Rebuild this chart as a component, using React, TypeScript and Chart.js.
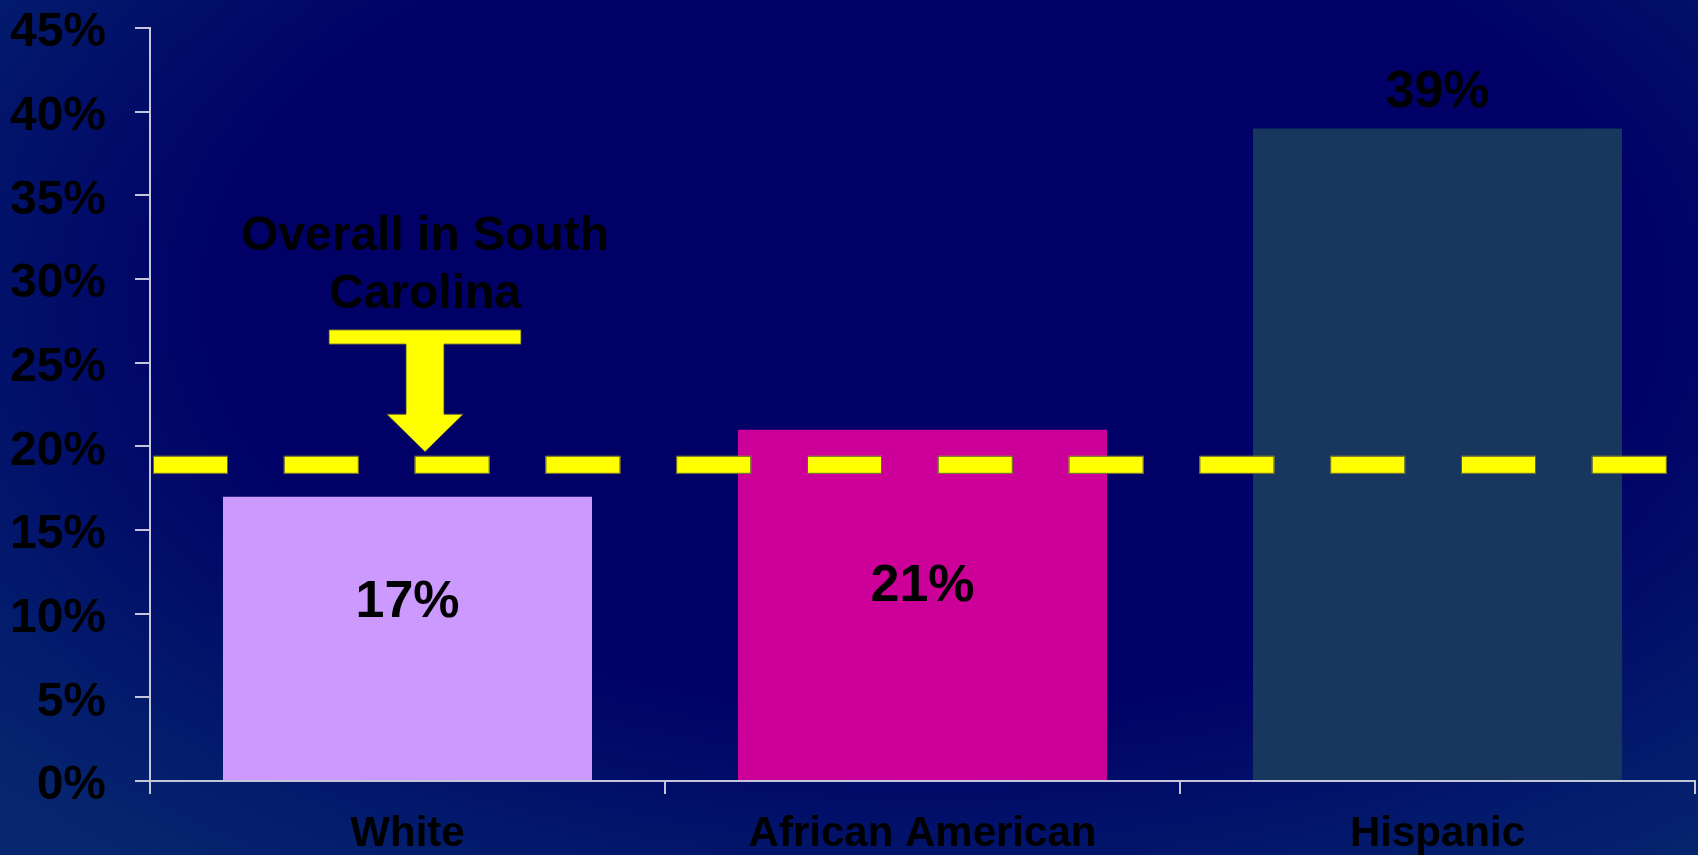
import React, { useEffect, useRef } from 'react';
import { Chart, registerables } from 'chart.js';

Chart.register(...registerables);

// ---- Data ----
const categories = ['White', 'African American', 'Hispanic'];
const values = [17, 21, 39];
const valueLabels = ['17%', '21%', '39%'];
const barColors = ['#CC99FF', '#CC0099', '#17375E'];
const overallValue = 18.9;
const overallLabel = ['Overall in South', 'Carolina'];
const yMin = 0;
const yMax = 45;
const yStep = 5;

const FONT = '"Liberation Sans", Arial, Helvetica, sans-serif';
const AXIS_COLOR = '#c4c6dc';
const YELLOW = '#FFFF00';
const OUTLINE = 'rgba(60,60,70,0.8)';
const Y_TICK_LEN = 15;

// baseline offsets (px) of value labels relative to bar tops
const labelBaselineOffsets = [120, 171, -21];

const yTickMarksPlugin = {
  id: 'yTickMarks',
  afterDraw(chart: any) {
    const { ctx, chartArea, scales } = chart;
    const yScale = scales.y;
    ctx.save();
    ctx.strokeStyle = AXIS_COLOR;
    ctx.lineWidth = 2;
    yScale.ticks.forEach((t: any) => {
      const py = Math.round(yScale.getPixelForValue(t.value));
      ctx.beginPath();
      ctx.moveTo(chartArea.left - Y_TICK_LEN, py);
      ctx.lineTo(chartArea.left, py);
      ctx.stroke();
    });
    ctx.restore();
  },
};

const overlayPlugin = {
  id: 'overlay',
  afterDatasetsDraw(chart: any) {
    const { ctx, chartArea, scales } = chart;
    const yScale = scales.y;
    const xScale = scales.x;
    const meta = chart.getDatasetMeta(0);

    ctx.save();
    // value labels
    ctx.font = `bold 52px ${FONT}`;
    ctx.fillStyle = '#000000';
    ctx.textAlign = 'center';
    ctx.textBaseline = 'alphabetic';
    meta.data.forEach((bar: any, i: number) => {
      ctx.fillText(valueLabels[i], bar.x, bar.y + labelBaselineOffsets[i]);
    });

    // dashed overall line
    const ly = yScale.getPixelForValue(overallValue);
    const dash = 75;
    const period = 130.8;
    const thick = 18;
    ctx.fillStyle = YELLOW;
    ctx.strokeStyle = OUTLINE;
    ctx.lineWidth = 1;
    for (let x0 = chartArea.left + 3; x0 + dash <= chartArea.right - 20; x0 += period) {
      ctx.fillRect(x0, ly - thick / 2, dash, thick);
      ctx.strokeRect(x0 + 0.5, ly - thick / 2 + 0.5, dash - 1, thick - 1);
    }

    // arrow
    const cx = xScale.getPixelForValue(0) + 17.5;
    const tip = ly - 13;
    ctx.beginPath();
    ctx.moveTo(cx - 96, tip - 122);
    ctx.lineTo(cx + 96, tip - 122);
    ctx.lineTo(cx + 96, tip - 107.7);
    ctx.lineTo(cx + 19, tip - 107.7);
    ctx.lineTo(cx + 19, tip - 37.7);
    ctx.lineTo(cx + 38.3, tip - 37.7);
    ctx.lineTo(cx, tip);
    ctx.lineTo(cx - 38.3, tip - 37.7);
    ctx.lineTo(cx - 19, tip - 37.7);
    ctx.lineTo(cx - 19, tip - 107.7);
    ctx.lineTo(cx - 96, tip - 107.7);
    ctx.closePath();
    ctx.fillStyle = YELLOW;
    ctx.fill();
    ctx.strokeStyle = OUTLINE;
    ctx.lineWidth = 1;
    ctx.stroke();

    // annotation text
    ctx.font = `bold 48px ${FONT}`;
    ctx.fillStyle = '#000000';
    ctx.textAlign = 'center';
    ctx.textBaseline = 'alphabetic';
    ctx.fillText(overallLabel[0], cx, tip - 201.7);
    ctx.fillText(overallLabel[1], cx, tip - 144);
    ctx.restore();
  },
};

export default function App() {
  const canvasRef = useRef<HTMLCanvasElement | null>(null);

  useEffect(() => {
    document.body.style.margin = '0';
    const canvas = canvasRef.current;
    if (!canvas) return;
    const chart = new Chart(canvas, {
      type: 'bar',
      data: {
        labels: categories,
        datasets: [
          {
            data: values,
            backgroundColor: barColors,
            borderWidth: 0,
            categoryPercentage: 1,
            barPercentage: 0.7165,
          },
        ],
      },
      options: {
        responsive: false,
        animation: false,
        devicePixelRatio: 1,
        layout: { padding: { left: 0, right: 3, top: 0, bottom: -19.5 } },
        plugins: {
          legend: { display: false },
          tooltip: { enabled: false },
          title: { display: false },
        },
        scales: {
          x: {
            grid: {
              offset: true,
              drawOnChartArea: false,
              drawTicks: true,
              tickLength: 13,
              color: AXIS_COLOR,
              lineWidth: 2,
            },
            border: { display: true, color: AXIS_COLOR, width: 2 },
            ticks: {
              color: '#000000',
              font: { family: FONT, size: 42, weight: 'bold' },
              padding: 15,
              maxRotation: 0,
              autoSkip: false,
            },
          },
          y: {
            min: yMin,
            max: yMax,
            afterFit: (scale: any) => {
              scale.width = 150;
            },
            grid: {
              drawOnChartArea: false,
              drawTicks: true,
              tickLength: 44,
              tickColor: 'rgba(0,0,0,0)',
              color: 'rgba(0,0,0,0)',
              lineWidth: 2,
            },
            border: { display: true, color: AXIS_COLOR, width: 2 },
            ticks: {
              stepSize: yStep,
              color: '#000000',
              font: { family: FONT, size: 48, weight: 'bold', lineHeight: 1.17 },
              padding: 0,
              labelOffset: 5,
              callback: (v: any) => `${v}%`,
            },
          },
        },
      },
      plugins: [overlayPlugin, yTickMarksPlugin],
    });
    return () => chart.destroy();
  }, []);

  return (
    <div
      style={{
        position: 'absolute',
        left: 0,
        top: 0,
        width: 1698,
        height: 855,
        background:
          'radial-gradient(ellipse 75% 85% at 55% 35%, #000066 0%, #000066 55%, #031c6c 85%, #07266f 100%)',
      }}
    >
      <canvas ref={canvasRef} width={1698} height={855} style={{ display: 'block' }} />
    </div>
  );
}
